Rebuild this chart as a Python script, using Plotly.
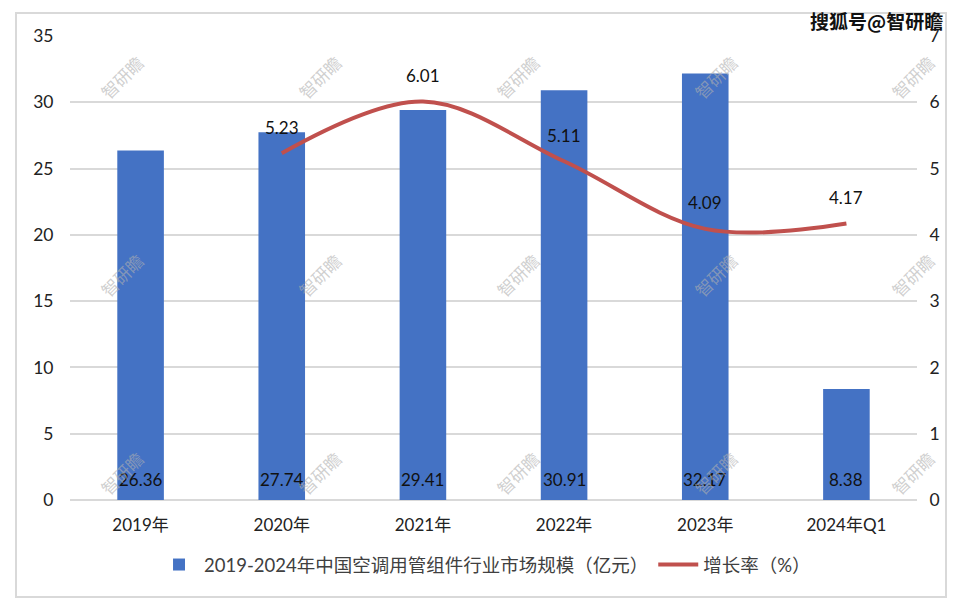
import plotly.graph_objects as go

categories = ["2019年", "2020年", "2021年", "2022年", "2023年", "2024年Q1"]
market_size = [26.36, 27.74, 29.41, 30.91, 32.17, 8.38]
growth_cats = ["2020年", "2021年", "2022年", "2023年", "2024年Q1"]
growth_rate = [5.23, 6.01, 5.11, 4.09, 4.17]
bar_name = "2019-2024年中国空调用管组件行业市场规模（亿元）"
line_name = "增长率（%）"
watermark = "智研瞻"
source_mark = "搜狐号@智研瞻"

FONT = "Lato, Noto Sans CJK SC, sans-serif"

# plot area in pixels
L, R, T, B = 70, 917, 36, 500
W, H = R - L, B - T


def px(x):
    return (x - L) / W


def py(y):
    return (B - y) / H


fig = go.Figure()
fig.add_trace(go.Bar(
    x=categories, y=market_size, name=bar_name,
    marker=dict(color="#4472C4", line=dict(width=0)),
    width=0.33,
))
fig.add_trace(go.Scatter(
    x=growth_cats, y=growth_rate, name=line_name, yaxis="y2",
    mode="lines",
    line=dict(color="#C0504D", width=4, shape="spline", smoothing=1.0),
))

annotations = []
for c, v in zip(categories, market_size):
    annotations.append(dict(
        x=c, y=0, xref="x", yref="y", text=f"{v:.2f}", showarrow=False,
        yanchor="middle", yshift=21, font=dict(size=17, color="#111111", family=FONT),
    ))
for c, v in zip(growth_cats, growth_rate):
    annotations.append(dict(
        x=c, y=v, xref="x", yref="y2", text=f"{v:.2f}", showarrow=False,
        yshift=26, font=dict(size=17, color="#111111", family=FONT),
    ))

# watermarks
for wx in [121, 319, 517, 715, 912]:
    for wy in [77, 275, 473]:
        annotations.append(dict(
            x=px(wx), y=py(wy), xref="paper", yref="paper", text=watermark,
            showarrow=False, textangle=-45, xanchor="center", yanchor="middle",
            font=dict(size=17, color="rgba(175,175,175,0.6)", family="Noto Sans CJK SC"),
        ))

annotations.append(dict(
    x=px(945), y=py(21), xref="paper", yref="paper", text="<b>" + source_mark + "</b>",
    showarrow=False, xanchor="right", yanchor="middle",
    font=dict(size=19, color="#111111", family="Noto Sans CJK SC"),
))

fig.update_layout(
    width=968, height=611,
    margin=dict(l=L, r=968 - R, t=T, b=611 - B),
    paper_bgcolor="white", plot_bgcolor="white",
    font=dict(family=FONT, size=17, color="#222222"),
    bargap=0.67,
    showlegend=True,
    legend=dict(orientation="h", x=0.49, xanchor="center", y=py(565), yanchor="middle",
                font=dict(size=18.5, color="#404040"), itemwidth=40, tracegroupgap=0),
    xaxis=dict(showgrid=False, showline=False, ticks="outside", ticklen=10,
               tickcolor="rgba(0,0,0,0)", tickfont=dict(size=17, color="#222222"),
               range=[-0.5, 5.5]),
    yaxis=dict(range=[0, 35], dtick=5, showgrid=True, gridcolor="#d9d9d9", gridwidth=1.5,
               zeroline=True, zerolinecolor="#d9d9d9", zerolinewidth=1.5, showline=False,
               ticks="outside", ticklen=12, tickcolor="rgba(0,0,0,0)",
               tickfont=dict(size=17.5, color="#222222")),
    yaxis2=dict(range=[0, 7], dtick=1, overlaying="y", side="right", showgrid=False,
                zeroline=False, showline=False, ticks="outside", ticklen=8,
                tickcolor="rgba(0,0,0,0)", tickfont=dict(size=17.5, color="#222222")),
    annotations=annotations,
    shapes=[dict(type="rect", xref="paper", yref="paper",
                 x0=px(16), x1=px(946), y0=py(597), y1=py(13),
                 line=dict(color="#d9d9d9", width=2), fillcolor="rgba(0,0,0,0)", layer="below")],
)

fig.write_html("out.html")
